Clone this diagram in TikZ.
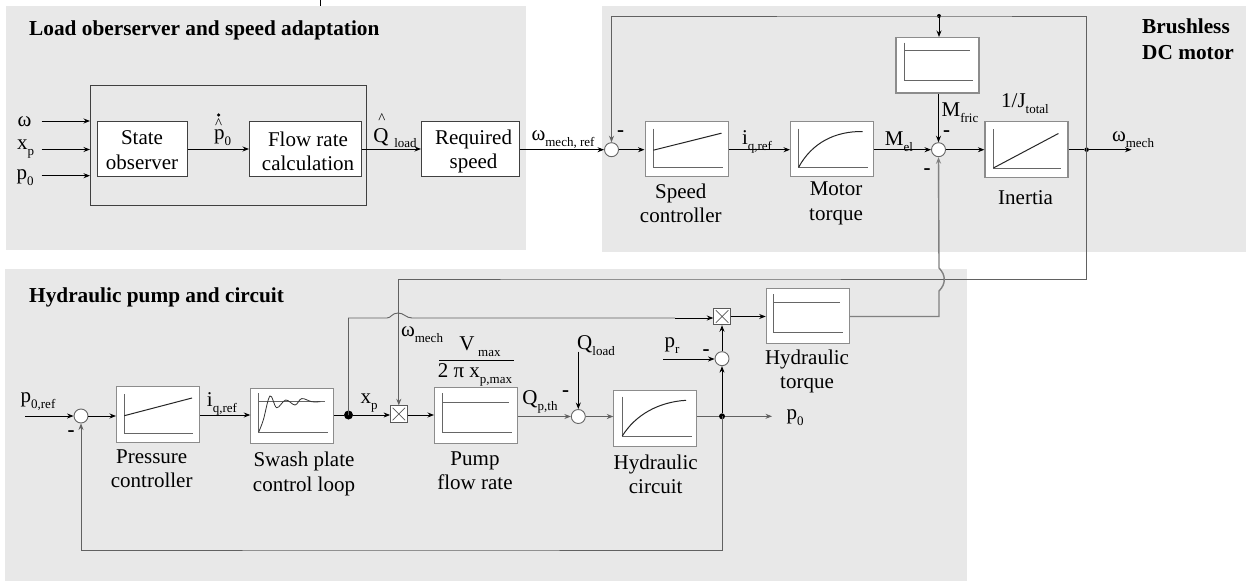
\documentclass[tikz,border=0pt]{standalone}
\usepackage{fontspec}
\setmainfont{Liberation Serif}
\usetikzlibrary{arrows.meta}
\newcommand\sbs[1]{\raisebox{-0.28em}{\fontsize{13}{13}\selectfont #1}}
\tikzset{
  x=1pt,y=-1pt,
  panel/.style={fill=panelgray,draw=none},
  lbl/.style={inner sep=0pt,align=center,yshift=-2.5pt,font=\fontsize{21}{24.5}\selectfont},
  ttl/.style={inner sep=0pt,align=left,font=\bfseries\fontsize{21.3}{26}\selectfont},
  dk/.style={draw=black!75,fill=white,line width=1pt,inner sep=0pt,anchor=north west},
  gr/.style={draw=black!45,fill=white,line width=1.1pt,inner sep=0pt,anchor=north west},
  sumc/.style={circle,draw=black!60,fill=white,line width=.9pt,inner sep=0pt,minimum size=14pt},
  mult/.style={rectangle,draw=black!65,fill=white,line width=.9pt,inner sep=0pt,minimum size=16.5pt,
    path picture={\draw[line width=.7pt] ([xshift=2pt,yshift=2pt]path picture bounding box.south west) -- ([xshift=-2pt,yshift=-2pt]path picture bounding box.north east)
      ([xshift=2pt,yshift=-2pt]path picture bounding box.north west) -- ([xshift=-2pt,yshift=2pt]path picture bounding box.south east);}},
  dotn/.style={circle,fill=black,inner sep=0pt},
  wire/.style={line width=.95pt,draw=black},
  gwire/.style={line width=.9pt,draw=black!62},
  arr/.style={-{Stealth[length=6.5pt,width=5pt]}},
  ax/.style={line width=1pt,draw=black!60},
  cv/.style={line width=1pt,draw=black!85},
}
\definecolor{panelgray}{HTML}{E8E8E8}
\begin{document}
\begin{tikzpicture}
\useasboundingbox (0,0) rectangle (1246,583);
% panels
\fill[panel] (5.5,6) rectangle (526,250);
\fill[panel] (602,6) rectangle (1246,252);
\fill[panel] (5,269) rectangle (967,581);

% === panel 1 ===
\node[dk,minimum width=276pt,minimum height=120pt,fill=none] (outer) at (90,85) {};
\node[dk,minimum width=90pt,minimum height=55pt] (so) at (97,121) {};
\node[dk,minimum width=111.5pt,minimum height=55pt] (fr) at (249,121) {};
\node[dk,minimum width=98pt,minimum height=55pt] (rs) at (421,121) {};
\node[lbl] (tso) at (142,147.5) {State\\observer};
\node[lbl] (tfr) at (308,149) {Flow rate\\calculation};
\node[lbl] (trs) at (473.5,149) {Required\\speed};
\node[ttl,anchor=west] (t1) at (29,30) {Load oberserver and speed adaptation};
\node[lbl] (lw) at (24.5,119) {ω};
\node[lbl] (lxp) at (25.7,147) {x\sbs{p}};
\node[lbl] (lp0) at (25,175) {p\sbs{0}};
\coordinate (iw) at (41.5,121);
\coordinate (ix) at (41.5,149.5);
\coordinate (ip) at (41.5,175.7);
\draw[wire,arr] (iw) -- (outer.west |- iw);
\draw[wire,arr] (ix) -- (outer.west |- ix);
\draw[wire,arr] (ip) -- (outer.west |- ip);
\node[lbl] (lph) at (222.5,135) {\smash{\makebox[0pt][l]{\hspace{1pt}\raisebox{11pt}{\fontsize{15}{15}\selectfont\^{}}}}p\sbs{0}};
\node[dotn,minimum size=3.5pt] (lphd) at (218.5,115) {};
\node[lbl] (lqh) at (381,135) {\smash{\makebox[0pt][l]{\hspace{5pt}\raisebox{19pt}{\fontsize{15}{15}\selectfont\^{}}}}Q};
\node[lbl] (lql) at (405.5,141) {\fontsize{13}{13}\selectfont load};
\node[lbl] (lwr) at (563,137) {ω\sbs{mech, ref}};

% === panel 2 ===
\node[sumc] (s1) at (611.5,149.7) {};
\node[gr,minimum width=83pt,minimum height=55.5pt] (sc) at (644.5,120.7) {};
\node[gr,minimum width=83pt,minimum height=55.5pt] (mt) at (790,120.7) {};
\node[gr,minimum width=83pt,minimum height=55.5pt] (fb) at (895.4,37) {};
\node[sumc] (s2) at (938.5,149.7) {};
\node[gr,minimum width=83pt,minimum height=56pt] (in) at (984.4,121) {};
\node[dotn,minimum size=4pt] (j1) at (939,16) {};
\node[dotn,minimum size=4.5pt] (j2) at (1086.6,149.7) {};
\coordinate (wout) at (1131.5,149.7);
\coordinate (stub) at (320,0);
\coordinate (stubb) at (320,6);
\draw[line width=1pt] (stub) -- (stubb);

\begin{scope}[shift={(sc.north west)}]
\draw[ax] (8.8,8) -- (8.8,47) -- (78,47);
\draw[cv] (8.8,29.5) -- (77,12.5);
\end{scope}
\begin{scope}[shift={(mt.north west)}]
\draw[ax] (8.6,8) -- (8.6,47) -- (78,47);
\draw[cv] (8.6,46.6) .. controls (22,22) and (45,10.5) .. (72.5,10.8);
\end{scope}
\begin{scope}[shift={(fb.north west)}]
\draw[ax] (8.6,5.7) -- (8.6,44) -- (77.7,44);
\draw[ax] (8.6,13.7) -- (75,13.7);
\end{scope}
\begin{scope}[shift={(in.north west)}]
\draw[ax] (9,8) -- (9,47) -- (77,47);
\draw[cv] (9,47) -- (74,12.5);
\end{scope}

\node[lbl] (tsc) at (680.8,201) {Speed\\controller};
\node[lbl] (tmt) at (836,201) {Motor\\torque};
\node[lbl] (tin) at (1025.6,195.5) {Inertia};
\node[lbl] (lj) at (1025,101) {1/J\sbs{total}};
\node[lbl] (lmf) at (960,110) {M\sbs{fric}};
\node[lbl] (lme) at (899,139) {M\sbs{el}};
\node[lbl] (liq1) at (757,139) {i\sbs{q,ref}};
\node[lbl] (lwm1) at (1133,137) {ω\sbs{mech}};
\node[ttl,anchor=north west] (t2) at (1142,19) {Brushless\\DC motor};
\node[lbl] (m1) at (620.6,131) {\bfseries -};
\node[lbl] (m2) at (946.5,131) {\bfseries -};
\node[lbl] (m3) at (927,169) {\bfseries -};

% === panel 3 ===
\node[sumc] (s3) at (81,416) {};
\node[gr,minimum width=83pt,minimum height=56pt] (pc) at (116,386) {};
\node[gr,minimum width=83pt,minimum height=55pt] (sw) at (250.3,388) {};
\node[mult] (x1) at (398.8,414) {};
\node[gr,minimum width=83pt,minimum height=55.7pt] (pf) at (434,387.3) {};
\node[sumc] (s5) at (578.3,416.5) {};
\node[gr,minimum width=83pt,minimum height=55.5pt] (hc) at (613.3,390) {};
\node[gr,minimum width=83pt,minimum height=55pt] (ht) at (765.7,288) {};
\node[mult] (x2) at (722,316.5) {};
\node[sumc] (s4) at (722,358.7) {};
\node[dotn,minimum size=9pt] (j3) at (348.5,415) {};
\node[dotn,minimum size=6pt] (j4) at (722,416.3) {};
\coordinate (pin) at (25,416);
\coordinate (qin) at (578.3,351.7);
\coordinate (prin) at (663,359);
\coordinate (pout) at (772,416.3);
\coordinate (fbk) at (400,550);
\coordinate (wmh) at (600,279);

\begin{scope}[shift={(pc.north west)}]
\draw[ax] (8.3,8) -- (8.3,47) -- (77,47);
\draw[cv] (8.3,29.7) -- (76,12);
\end{scope}
\begin{scope}[shift={(sw.north west)}]
\draw[ax] (8.3,5) -- (8.3,44) -- (78,44);
\draw[ax] (8.3,13.7) -- (75,13.7);
\draw[line width=.8pt,draw=black!80] plot[smooth,tension=.6] coordinates {(8.4,44) (13,32) (19.7,8) (26.4,19.7) (35.4,12) (44.7,17) (51.4,10.6) (61.4,13.7) (70,13.7)};
\end{scope}
\begin{scope}[shift={(pf.north west)}]
\draw[ax] (8.3,6) -- (8.3,45) -- (77.7,45);
\draw[ax] (8.3,14.7) -- (75,14.7);
\end{scope}
\begin{scope}[shift={(hc.north west)}]
\draw[ax] (9,6.7) -- (9,46) -- (78.4,46);
\draw[cv] (9,46) .. controls (22,25) and (45,12) .. (72.7,10.3);
\end{scope}
\begin{scope}[shift={(ht.north west)}]
\draw[ax] (8,6) -- (8,44.3) -- (77,44.3);
\draw[ax] (8,14.3) -- (74,14.3);
\end{scope}

\node[ttl,anchor=west] (t3) at (29,297) {Hydraulic pump and circuit};
\node[lbl] (lp0r) at (38,399) {p\sbs{0,ref}};
\node[lbl] (liq2) at (222,401) {i\sbs{q,ref}};
\node[lbl] (m4) at (71,431) {\bfseries -};
\node[lbl] (tpc) at (151.7,466) {Pressure\\controller};
\node[lbl] (tsw) at (304,471.5) {Swash plate\\control loop};
\node[lbl] (lxp2) at (369,401) {x\sbs{p}};
\node[lbl] (lwm2) at (422,332) {ω\sbs{mech}};
\node[lbl] (lv) at (480,344) {V\,\sbs{max}};
\coordinate (fa) at (439,360);
\coordinate (fb2) at (514,360);
\draw[line width=1pt] (fa) -- (fb2);
\node[lbl] (l2p) at (475,372) {2 π x\sbs{p,max}};
\node[lbl] (tpf) at (475,468) {Pump\\flow rate};
\node[lbl] (lqp) at (540,399) {Q\sbs{p,th}};
\node[lbl] (m5) at (565.7,391) {\bfseries -};
\node[lbl] (lql2) at (596,343) {Q\sbs{load}};
\node[lbl] (thc) at (655.7,472) {Hydraulic\\circuit};
\node[lbl] (lpr) at (672,343) {p\sbs{r}};
\node[lbl] (m6) at (706,350) {\bfseries -};
\node[lbl] (lp0o) at (795,415) {p\sbs{0}};
\node[lbl] (tht) at (807,369) {Hydraulic\\torque};

% === connectors ===
\draw[wire,arr] (so.east) -- (fr.west);
\draw[wire,arr] (fr.east) -- (rs.west);
\draw[wire,arr] (rs.east |- s1.west) -- (s1.west);
\draw[wire,arr] (s1.east) -- (sc.west |- s1.east);
\draw[wire,arr] (sc.east |- s1.east) -- (mt.west |- s1.east);
\draw[wire,arr] (mt.east |- s2.west) -- (s2.west);
\draw[wire,arr] (s2.east) -- (in.west |- s2.east);
\draw[wire] (in.east |- j2) -- (j2);
\draw[wire,arr] (j2) -- (wout);
\draw[gwire,arr] (j2.center) |- (j1.center) -| (s1.north);
\draw[wire,arr] (j1.center) -- (j1 |- fb.north);
\draw[wire,arr] (fb.south -| s2.north) -- (s2.north);
% feedback wm to multiplier 1
\draw[gwire,arr] (j2.center) |- (wmh) -| (x1.north);
% torque to sum 2 with jump
\coordinate (bl) at (939,291);
\coordinate (bu) at (939,268);
\draw[gwire,line width=1.4pt,draw=black!50] (ht.east |- x2) -| (bl) .. controls (946,284) and (946,275) .. (bu);
\draw[gwire,line width=1.4pt,draw=black!50,arr] (bu) -- (s2.south);
% pressure loop
\draw[wire,arr] (pin) -- (s3.west);
\draw[wire,arr] (s3.east) -- (pc.west |- s3.east);
\draw[wire,arr] (pc.east |- j3) -- (sw.west |- j3);
\draw[wire] (sw.east |- j3) -- (j3);
\draw[wire,arr] (j3) -- (x1.west |- j3);
\draw[wire,arr] (x1.east |- j3) -- (pf.west |- j3);
\draw[gwire,arr] (pf.east |- s5.west) -- (s5.west);
\draw[gwire,arr] (s5.east) -- (hc.west |- s5.east);
\draw[gwire] (hc.east |- j4) -- (j4);
\draw[gwire,arr] (j4) -- (pout);
\draw[wire,arr] (qin) -- (s5.north);
\draw[wire,arr] (prin) -- (s4.west |- prin);
\draw[wire,arr] (j4) -- (s4.south);
\draw[wire,arr] (s4.north) -- (x2.south);
\draw[wire,arr] (x2.east) -- (ht.west |- x2);
% xp to multiplier 2 with jump over wm
\coordinate (cl) at (387,318);
\coordinate (cr) at (412,318);
\coordinate (cm) at (675,318);
\draw[gwire] (j3.center) -- (j3 |- cl) -- (cl) .. controls (391,318) and (392,313) .. (398,313) .. controls (404,313) and (406,318) .. (cr) -- (cm);
\draw[wire,arr] (cm) -- (x2.west |- cm);
% pressure feedback
\draw[gwire,arr] (j4.center) |- (fbk) -| (s3.south);
\end{tikzpicture}
\end{document}
